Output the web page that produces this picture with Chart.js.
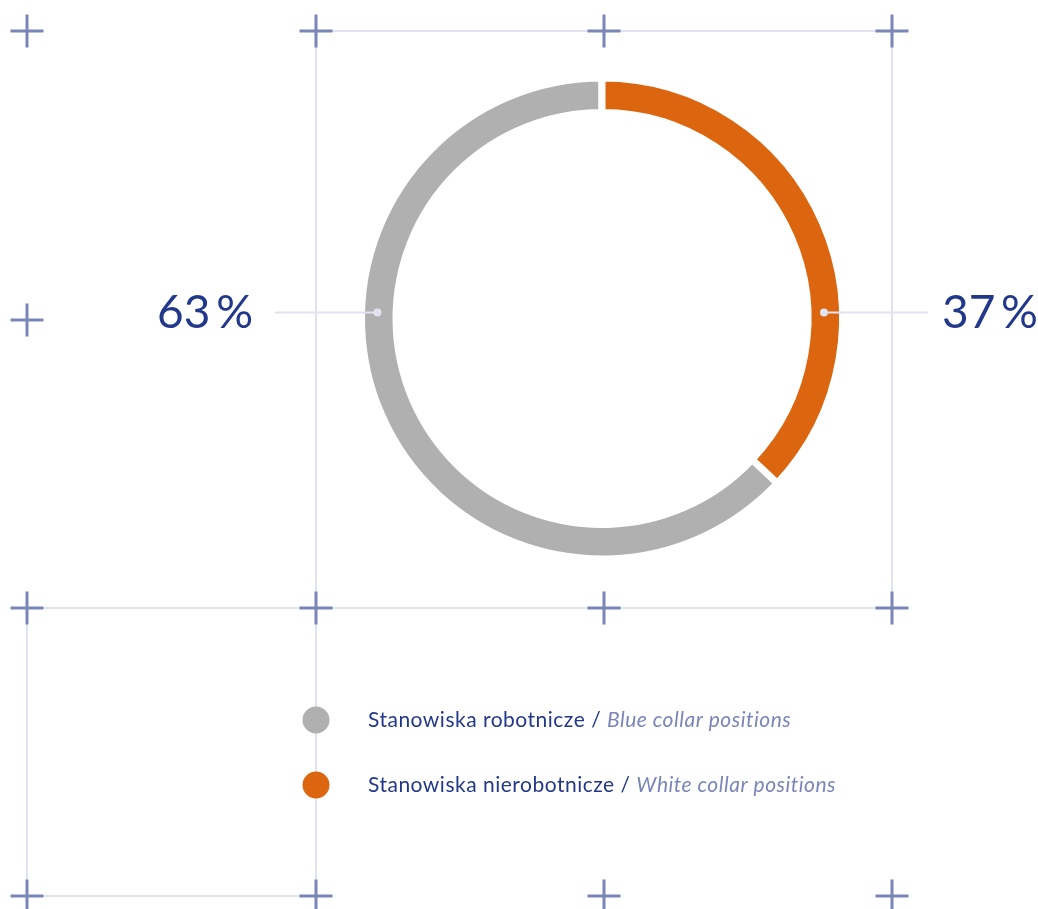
<!DOCTYPE html>
<html><head><meta charset="utf-8">
<script src="https://cdn.jsdelivr.net/npm/chart.js@4.4.1/dist/chart.umd.min.js"></script>
<style>html,body{margin:0;padding:0;background:#fff;overflow:hidden}#wrap{position:relative;width:1038px;height:909px}canvas{display:block}</style>
</head><body><div id="wrap"><canvas id="c" width="1038" height="909" style="width:1038px;height:909px"></canvas></div>
<script>
const categories = ["Stanowiska robotnicze", "Stanowiska nierobotnicze"];
const categoriesEn = ["Blue collar positions", "White collar positions"];
const values = [63, 37];
const colors = ["#b0b0b0", "#dc6610"];
const valueLabels = ["63\u2009%", "37\u2009%"];

const DARK = "#22388a", LIGHT = "#7a86b8", GRID = "#e1e2f0", CROSS = "#7a86b8";
const total = values.reduce((a, b) => a + b, 0);

const decor = {
  id: "decor",
  beforeDatasetsDraw(chart) {
    const ctx = chart.ctx;
    ctx.save();
    ctx.strokeStyle = GRID; ctx.lineWidth = 2;
    const lines = [[316,31,892,31],[316,31,316,896],[892,31,892,608],[27,608,892,608],[27,608,27,896],[27,896,316,896]];
    lines.forEach(l => { ctx.beginPath(); ctx.moveTo(l[0], l[1]); ctx.lineTo(l[2], l[3]); ctx.stroke(); });
    ctx.strokeStyle = CROSS; ctx.lineWidth = 3;
    const crosses = [[27,31],[316,31],[604,31],[892,31],[27,320],[27,608],[316,608],[604,608],[892,608],[27,896],[316,896],[604,896],[892,896]];
    crosses.forEach(c => {
      ctx.beginPath();
      ctx.moveTo(c[0]-16.5, c[1]); ctx.lineTo(c[0]+16.5, c[1]);
      ctx.moveTo(c[0], c[1]-16.5); ctx.lineTo(c[0], c[1]+16.5);
      ctx.stroke();
    });
    ctx.restore();
  },
  afterDatasetsDraw(chart) {
    const ctx = chart.ctx;
    ctx.save();
    ctx.strokeStyle = GRID; ctx.lineWidth = 2;
    ctx.beginPath(); ctx.moveTo(275, 312.5); ctx.lineTo(378, 312.5); ctx.stroke();
    ctx.beginPath(); ctx.moveTo(824, 312.5); ctx.lineTo(928, 312.5); ctx.stroke();
    ctx.fillStyle = "#e1e2f0";
    [[377.5,312.5],[824,312.5]].forEach(p => { ctx.beginPath(); ctx.arc(p[0], p[1], 4, 0, Math.PI*2); ctx.fill(); });
    ctx.fillStyle = DARK;
    ctx.font = "400 46px Lato";
    ctx.textBaseline = "alphabetic";
    ctx.textAlign = "right";
    ctx.fillText(valueLabels[0], 253, 328);
    ctx.textAlign = "left";
    ctx.fillText(valueLabels[1], 942, 328);
    const ys = [720, 785];
    if ("letterSpacing" in ctx) ctx.letterSpacing = "0.5px";
    categories.forEach((cat, i) => {
      ctx.fillStyle = colors[i];
      ctx.beginPath(); ctx.arc(316, ys[i], 13.5, 0, Math.PI*2); ctx.fill();
      ctx.textAlign = "left"; ctx.textBaseline = "middle";
      ctx.font = "400 21px Lato";
      ctx.fillStyle = DARK;
      const t1 = cat + " / ";
      ctx.fillText(t1, 368, ys[i]);
      const w = ctx.measureText(t1).width;
      ctx.font = "italic 400 21px Lato";
      ctx.fillStyle = LIGHT;
      ctx.fillText(categoriesEn[i], 368 + w, ys[i]);
    });
    ctx.restore();
  }
};

const R = 240.5, RIN = 206;
new Chart(document.getElementById("c"), {
  type: "doughnut",
  data: {
    labels: categories,
    datasets: [{
      data: values,
      backgroundColor: colors,
      borderColor: "#ffffff",
      borderWidth: 7,
      hoverOffset: 0
    }]
  },
  options: {
    responsive: false,
    animation: false,
    events: [],
    rotation: values[1] / total * 360,
    radius: R,
    cutout: (RIN / R * 100) + "%",
    layout: { padding: { left: 166, right: 0, top: 0, bottom: 272 } },
    plugins: { legend: { display: false }, tooltip: { enabled: false } }
  },
  plugins: [decor]
});
</script>
</body></html>
